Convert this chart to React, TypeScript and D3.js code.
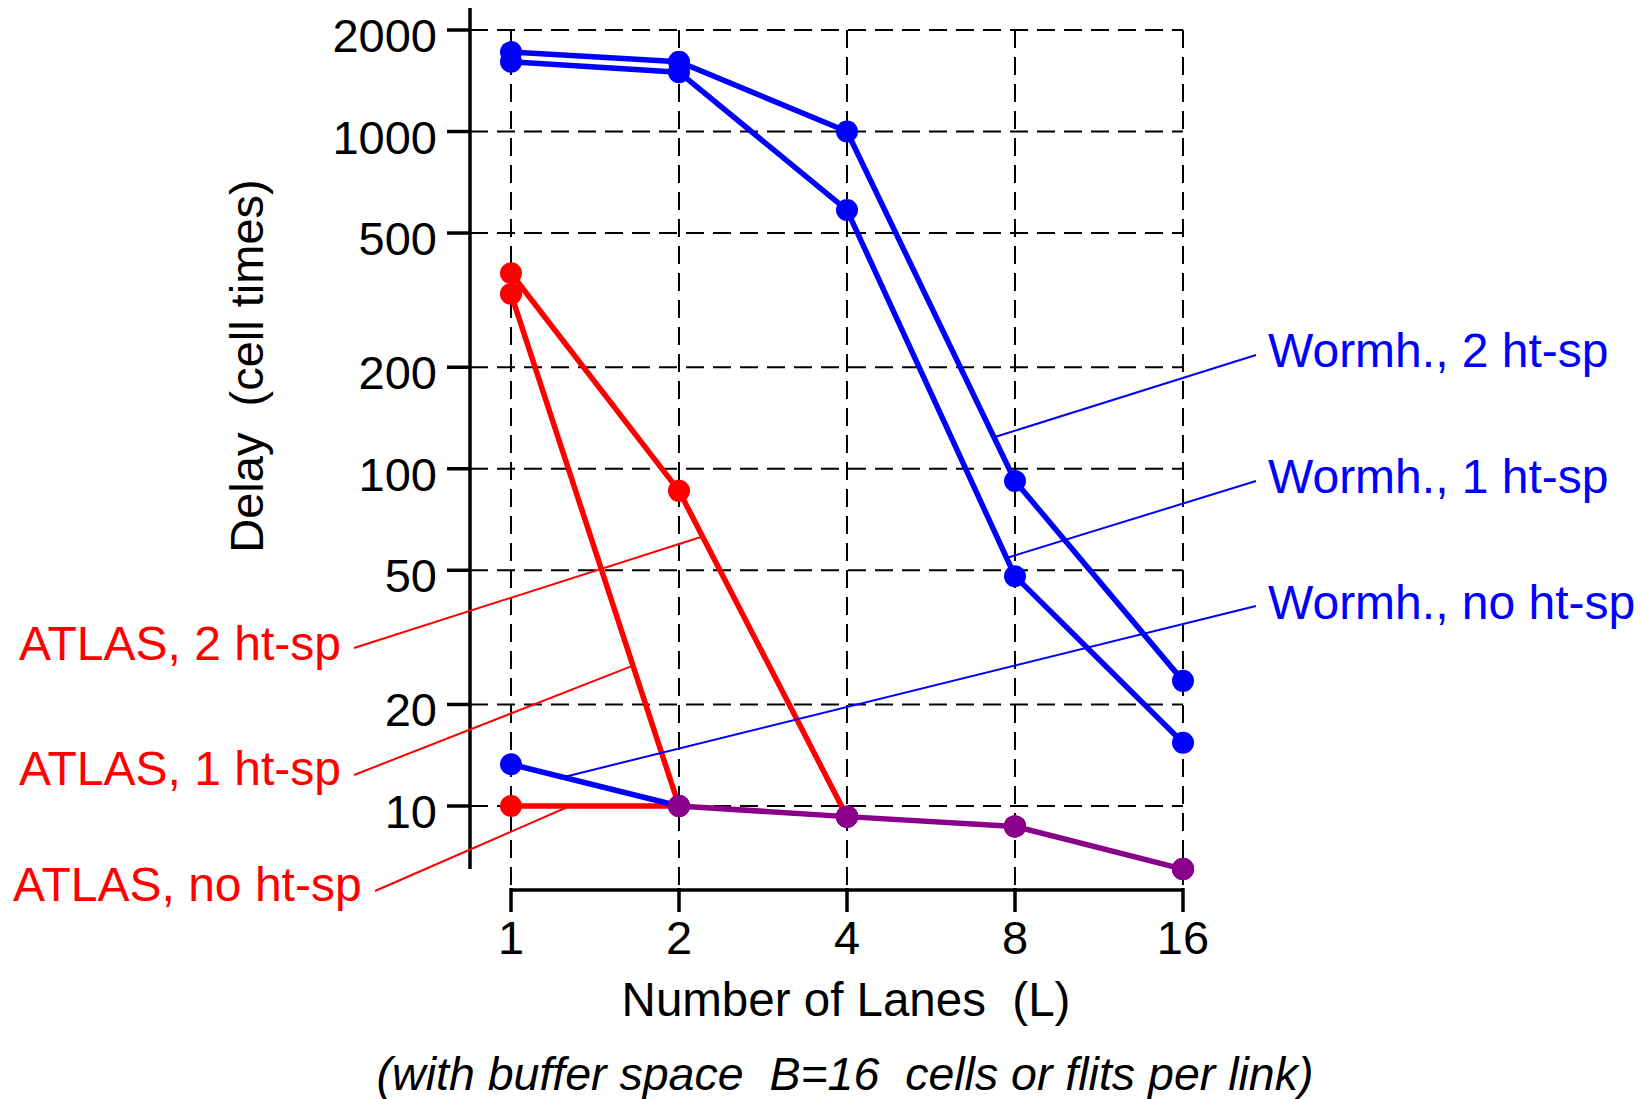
import { useEffect, useRef } from "react";
import * as d3 from "d3";

// number of lanes (x) and delay ticks (y, log)
const lanes = [1, 2, 4, 8, 16];
const delayTicks = [10, 20, 50, 100, 200, 500, 1000, 2000];

// delay in cell times, one value per lane count
const wormh2 = [1720, 1610, 1000, 92, 23.5];
const wormh1 = [1610, 1500, 585, 48, 15.4];
const wormh0 = [13.3, 10, 9.3, 8.7, 6.5];
const atlas2 = [380, 86, 9.3, 8.7, 6.5];
const atlas1 = [330, 10, 9.3, 8.7, 6.5];
const atlas0 = [10, 10, 9.3, 8.7, 6.5];

const wormhNames = ["Wormh., 2 ht-sp", "Wormh., 1 ht-sp", "Wormh., no ht-sp"];
const atlasNames = ["ATLAS, 2 ht-sp", "ATLAS, 1 ht-sp", "ATLAS, no ht-sp"];

const BLUE = "#0000ff";
const RED = "#ff0000";
const PURPLE = "#8b008b";
const FONT = "'Liberation Sans', Arial, Helvetica, sans-serif";

export default function App() {
  const svgRef = useRef<SVGSVGElement>(null);

  useEffect(() => {
    const svg = d3.select(svgRef.current);
    svg.selectAll("*").remove();

    const width = 1641;
    const height = 1099;

    const x = d3.scaleLog().base(2).domain([1, 16]).range([511, 1183]);
    const y = d3.scaleLog().domain([10, 2000]).range([806, 30]);

    const axisX = 470; // y axis line
    const axisY = 890; // x axis line

    svg.append("rect").attr("width", width).attr("height", height).attr("fill", "#fff");

    // --- dashed grid ---
    const grid = svg.append("g").attr("stroke", "#000").attr("stroke-width", 2).attr("stroke-dasharray", "18 9");
    grid.selectAll("line.h")
      .data(delayTicks)
      .enter()
      .append("line")
      .attr("x1", axisX)
      .attr("x2", x(16))
      .attr("y1", d => y(d))
      .attr("y2", d => y(d));
    grid.selectAll("line.v")
      .data(lanes)
      .enter()
      .append("line")
      .attr("x1", d => x(d))
      .attr("x2", d => x(d))
      .attr("y1", y(2000))
      .attr("y2", axisY);

    // --- y axis ---
    const yAxis = svg.append("g");
    yAxis.append("line")
      .attr("x1", axisX).attr("x2", axisX)
      .attr("y1", 8).attr("y2", 869)
      .attr("stroke", "#000").attr("stroke-width", 3.5);
    yAxis.selectAll("line.tick")
      .data(delayTicks)
      .enter()
      .append("line")
      .attr("x1", 447).attr("x2", axisX)
      .attr("y1", d => y(d)).attr("y2", d => y(d))
      .attr("stroke", "#000").attr("stroke-width", 3.5);
    yAxis.selectAll("text")
      .data(delayTicks)
      .enter()
      .append("text")
      .attr("x", 437)
      .attr("y", d => y(d) + 22)
      .attr("text-anchor", "end")
      .attr("font-family", FONT)
      .attr("font-size", 47)
      .text(d => String(d));

    // --- x axis ---
    const xAxis = svg.append("g");
    xAxis.append("line")
      .attr("x1", x(1)).attr("x2", x(16))
      .attr("y1", axisY).attr("y2", axisY)
      .attr("stroke", "#000").attr("stroke-width", 3.5);
    xAxis.selectAll("line.tick")
      .data(lanes)
      .enter()
      .append("line")
      .attr("x1", d => x(d)).attr("x2", d => x(d))
      .attr("y1", axisY - 2).attr("y2", 912)
      .attr("stroke", "#000").attr("stroke-width", 3.5);
    xAxis.selectAll("text")
      .data(lanes)
      .enter()
      .append("text")
      .attr("x", d => x(d))
      .attr("y", 954)
      .attr("text-anchor", "middle")
      .attr("font-family", FONT)
      .attr("font-size", 47)
      .text(d => String(d));

    // --- axis titles ---
    svg.append("text")
      .attr("x", 846).attr("y", 1016)
      .attr("text-anchor", "middle")
      .attr("font-family", FONT).attr("font-size", 47.5)
      .style("white-space", "pre")
      .text("Number of Lanes  (L)");
    svg.append("text")
      .attr("x", 845).attr("y", 1090)
      .attr("text-anchor", "middle")
      .attr("font-family", FONT).attr("font-size", 46.5)
      .attr("font-style", "italic")
      .style("white-space", "pre")
      .text("(with buffer space  B=16  cells or flits per link)");
    svg.append("text")
      .attr("transform", "translate(263,366) rotate(-90)")
      .attr("text-anchor", "middle")
      .attr("font-family", FONT).attr("font-size", 47)
      .style("white-space", "pre")
      .text("Delay  (cell times)");

    // --- series: overlapping red/blue parts drawn purple ---
    const blueSeries = [wormh2, wormh1, wormh0];
    const redSeries = [atlas2, atlas1, atlas0];
    const segKey = (vals: number[], i: number) => `${i}:${vals[i]}:${vals[i + 1]}`;
    const ptKey = (vals: number[], i: number) => `${i}:${vals[i]}`;

    const keysOf = (group: number[][], fn: (v: number[], i: number) => string, n: number) => {
      const s = new Set<string>();
      group.forEach(v => d3.range(n).forEach(i => s.add(fn(v, i))));
      return s;
    };
    const redSegs = keysOf(redSeries, segKey, lanes.length - 1);
    const blueSegs = keysOf(blueSeries, segKey, lanes.length - 1);
    const redPts = keysOf(redSeries, ptKey, lanes.length);
    const bluePts = keysOf(blueSeries, ptKey, lanes.length);

    const lines = svg.append("g").attr("stroke-width", 5.5).attr("stroke-linecap", "round").attr("fill", "none");
    const purpleSegs: { i: number; vals: number[] }[] = [];
    const seen = new Set<string>();
    const drawGroup = (group: number[][], color: string, other: Set<string>) => {
      group.forEach(vals => {
        d3.range(lanes.length - 1).forEach(i => {
          const k = segKey(vals, i);
          if (other.has(k)) {
            if (!seen.has(k)) { seen.add(k); purpleSegs.push({ i, vals }); }
            return;
          }
          lines.append("line")
            .attr("x1", x(lanes[i])).attr("y1", y(vals[i]))
            .attr("x2", x(lanes[i + 1])).attr("y2", y(vals[i + 1]))
            .attr("stroke", color);
        });
      });
    };
    drawGroup(redSeries, RED, blueSegs);
    drawGroup(blueSeries, BLUE, redSegs);
    purpleSegs.forEach(({ i, vals }) => {
      lines.append("line")
        .attr("x1", x(lanes[i])).attr("y1", y(vals[i]))
        .attr("x2", x(lanes[i + 1])).attr("y2", y(vals[i + 1]))
        .attr("stroke", PURPLE);
    });

    const dots = svg.append("g");
    const drawDots = (group: number[][], color: string, other: Set<string>) => {
      group.forEach(vals => {
        vals.forEach((v, i) => {
          dots.append("circle")
            .attr("cx", x(lanes[i]))
            .attr("cy", y(v))
            .attr("r", 11)
            .attr("fill", other.has(ptKey(vals, i)) ? PURPLE : color);
        });
      });
    };
    drawDots(redSeries, RED, bluePts);
    drawDots(blueSeries, BLUE, redPts);

    // --- labels with leader lines ---
    // target point on segment i -> i+1 at fraction t
    const onSeg = (vals: number[], i: number, t: number): [number, number] => [
      x(lanes[i]) + t * (x(lanes[i + 1]) - x(lanes[i])),
      y(vals[i]) + t * (y(vals[i + 1]) - y(vals[i])),
    ];

    const labels = [
      { text: wormhNames[0], color: BLUE, tx: 1268, ty: 367, lx: 1256, ly: 355, end: onSeg(wormh2, 2, 0.875) },
      { text: wormhNames[1], color: BLUE, tx: 1268, ty: 493, lx: 1256, ly: 481, end: onSeg(wormh1, 2, 0.95) },
      { text: wormhNames[2], color: BLUE, tx: 1268, ty: 619, lx: 1256, ly: 606, end: onSeg(wormh0, 0, 0.31) },
      { text: atlasNames[0], color: RED, tx: 19, ty: 660, lx: 354, ly: 648, end: onSeg(atlas2, 1, 0.14) },
      { text: atlasNames[1], color: RED, tx: 19, ty: 785, lx: 354, ly: 775, end: onSeg(atlas1, 0, 0.726) },
      { text: atlasNames[2], color: RED, tx: 13, ty: 901, lx: 375, ly: 891, end: onSeg(atlas0, 0, 0.35) },
    ];

    const ann = svg.append("g");
    labels.forEach(l => {
      ann.append("line")
        .attr("x1", l.lx).attr("y1", l.ly)
        .attr("x2", l.end[0]).attr("y2", l.end[1])
        .attr("stroke", l.color).attr("stroke-width", 2);
      ann.append("text")
        .attr("x", l.tx).attr("y", l.ty)
        .attr("fill", l.color)
        .attr("font-family", FONT).attr("font-size", 48)
        .text(l.text);
    });
  }, []);

  return (
    <svg
      ref={svgRef}
      width={1641}
      height={1099}
      viewBox="0 0 1641 1099"
      style={{ position: "absolute", left: 0, top: 0, display: "block" }}
    />
  );
}
